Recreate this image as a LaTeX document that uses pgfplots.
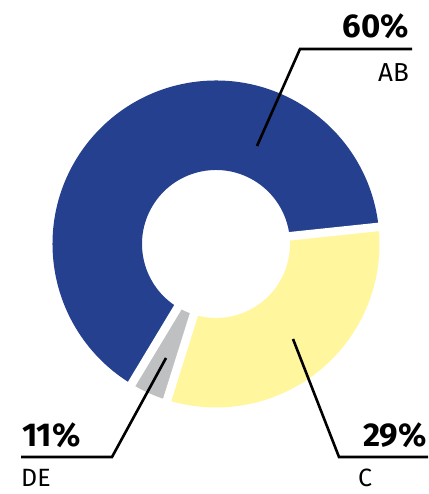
\documentclass[border=0pt]{standalone}
\usepackage{pgfplots}
\pgfplotsset{compat=1.18}
\usepackage{pgfplotstable}
\usetikzlibrary{calc}
\usepackage{fontspec}
\setmainfont{Fira Sans}
\newfontfamily\lightfont{Fira Sans}
\definecolor{cblue}{RGB}{36,64,142}
\definecolor{cyellow}{RGB}{255,246,157}
\definecolor{cgray}{RGB}{191,192,194}
\newcommand\donutslice[3]{%
  \fill[#1] ($(axis cs:216,250)+(#2:163.5pt)$) arc[start angle=#2, end angle=#3, radius=163.5pt]
    -- ($(axis cs:216,250)+(#3:74pt)$) arc[start angle=#3, end angle=#2, radius=74pt] -- cycle;}
\pgfplotstableread{
label share
AB 64.7
DE 3.8
C 31.5
}\slices
\begin{document}%
\begin{tikzpicture}
\pgfplotstablegetelem{0}{share}\of\slices \let\sAB\pgfplotsretval
\pgfplotstablegetelem{1}{share}\of\slices \let\sDE\pgfplotsretval
\pgfplotstablegetelem{2}{share}\of\slices \let\sC\pgfplotsretval
\pgfmathsetmacro\aStart{6}
\pgfmathsetmacro\aAB{\aStart+3.6*\sAB}
\pgfmathsetmacro\aDE{\aAB+3.6*\sDE}
\pgfmathsetmacro\aC{\aDE+3.6*\sC}
\begin{axis}[hide axis, scale only axis, width=428pt, height=494pt,
  xmin=0, xmax=428, ymin=0, ymax=494, clip=false]
\donutslice{cblue}{\aStart}{\aAB}
\donutslice{cgray}{\aAB}{\aDE}
\donutslice{cyellow}{\aDE}{\aC}
\draw[white, line width=8.5pt] (axis cs:216,250) -- ++(\aStart:175pt);
\draw[white, line width=8.5pt] (axis cs:216,250) -- ++(\aAB:175pt);
\draw[white, line width=8.5pt] (axis cs:216,250) -- ++(\aDE:175pt);
% leader lines
\draw[black, line width=2.6pt] (axis cs:257,348) -- (axis cs:300,445) -- (axis cs:412,445);
\draw[black, line width=2.6pt] (axis cs:166,136) -- (axis cs:112,37) -- (axis cs:21,37);
\draw[black, line width=2.6pt] (axis cs:293,155) -- (axis cs:339,37) -- (axis cs:428,37);
% labels
\node[anchor=base east, inner sep=0pt] at (axis cs:409,456) {\fontsize{33}{33}\selectfont\bfseries 60\%};
\node[anchor=base east, inner sep=0pt] at (axis cs:409,412) {\fontsize{26}{26}\selectfont\lightfont AB};
\node[anchor=base west, inner sep=0pt] at (axis cs:22,47) {\fontsize{33}{33}\selectfont\bfseries 11\%};
\node[anchor=base west, inner sep=0pt] at (axis cs:21,7) {\fontsize{25}{25}\selectfont\lightfont DE};
\node[anchor=base east, inner sep=0pt] at (axis cs:427,47) {\fontsize{33}{33}\selectfont\bfseries 29\%};
\node[anchor=base west, inner sep=0pt] at (axis cs:358,7) {\fontsize{25}{25}\selectfont\lightfont C};
\end{axis}
\pgfresetboundingbox
\path (current axis.south west) rectangle (current axis.north east);
\end{tikzpicture}%
\end{document}
